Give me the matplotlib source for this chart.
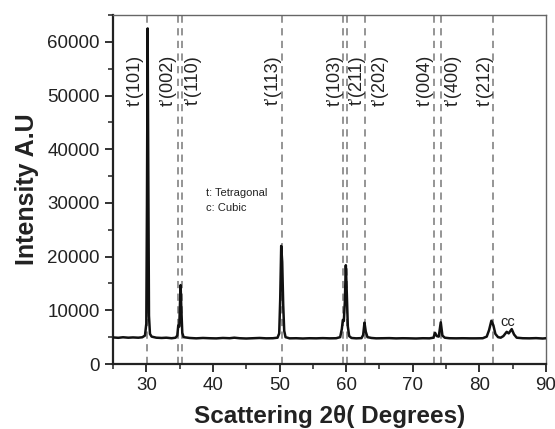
import matplotlib
matplotlib.use("Agg")
import matplotlib.pyplot as plt
from matplotlib.ticker import MultipleLocator

plt.rcParams['font.family'] = ['Liberation Sans', 'DejaVu Sans']

# XRD pattern (2theta in degrees, intensity in a.u.)
two_theta = [25.0, 25.8, 26.5, 27.3, 28.0, 28.8, 29.4, 29.8, 30.0, 30.1, 30.2, 30.3, 30.4, 30.55,
             30.8, 31.5, 32.3, 33.0, 33.8, 34.4, 34.65, 34.8, 34.95, 35.05, 35.15, 35.25, 35.4,
             35.6, 36.5, 37.5, 38.5, 39.5, 40.5, 41.5, 42.5, 43.2, 44.0, 45.0, 46.0, 47.0, 48.0,
             49.0, 49.7, 49.95, 50.1, 50.25, 50.4, 50.55, 50.7, 50.9, 51.5, 52.5, 53.5, 54.5,
             55.5, 56.5, 57.5, 58.5, 59.1, 59.35, 59.5, 59.65, 59.8, 59.95, 60.1, 60.25, 60.45,
             60.8, 61.5, 62.3, 62.55, 62.75, 62.95, 63.2, 63.8, 64.5, 65.5, 66.5, 67.5, 68.5,
             69.5, 70.5, 71.5, 72.5, 73.1, 73.35, 73.6, 73.9, 74.2, 74.45, 74.8, 75.5, 76.5,
             77.5, 78.5, 79.5, 80.5, 81.1, 81.45, 81.8, 82.1, 82.4, 82.8, 83.2, 83.6, 84.1,
             84.4, 84.85, 85.2, 85.6, 86.5, 87.5, 88.5, 89.5, 90.0]
intensity = [4950, 4880, 4980, 4900, 4950, 4900, 4980, 5300, 7500, 30000, 62500, 35000, 9000, 5600,
             5100, 4900, 4850, 4900, 4800, 4900, 5300, 7200, 7000, 11000, 14700, 10500, 5800,
             5000, 4850, 4780, 4850, 4800, 4770, 4850, 4800, 4900, 4800, 4750, 4800, 4850, 4780,
             4800, 4900, 5700, 12000, 22000, 19000, 11000, 6200, 5000, 4780, 4800, 4750, 4800,
             4780, 4820, 4780, 4800, 5000, 6500, 8200, 8000, 11500, 18400, 13000, 7000, 5200,
             4850, 4780, 4820, 5400, 7700, 6000, 5000, 4850, 4780, 4800, 4820, 4770, 4800,
             4780, 4750, 4800, 4780, 4900, 5800, 5200, 5100, 7760, 5300, 4900, 4800, 4780,
             4800, 4780, 4780, 4800, 5100, 6300, 8060, 7200, 5600, 5000, 4900, 5200, 6000,
             5700, 6500, 5500, 4900, 4800, 4780, 4820, 4750, 4800]

# reference reflections
ref_pos = [30.1, 34.8, 35.3, 50.3, 59.5, 60.1, 62.8, 73.2, 74.3, 82.1]
ref_labels = ["t’(101)", "t’(002)", "t’(110)", "t’(113)", "t’(103)", "t’(211)",
              "t’(202)", "t’(004)", "t’(400)", "t’(212)"]
label_side = [-1, -1, 1, -1, -1, 1, 1, -1, 1, -1]
label_off = [1.75, 1.5, 1.8, 1.3, 1.2, 1.6, 2.3, 1.35, 1.8, 1.2]

fig = plt.figure(figsize=(5.55, 4.29), dpi=100)
ax = fig.add_axes([0.2036, 0.1515, 0.7802, 0.8135])

for p in ref_pos:
    ax.axvline(p, color='#8c8c8c', lw=1.3, ls=(0, (4, 3)), zorder=1)

ax.plot(two_theta, intensity, color='#111111', lw=1.8, zorder=3)

for p, lab, s, o in zip(ref_pos, ref_labels, label_side, label_off):
    ax.text(p + s * o, 52800, lab, rotation=90, ha='center', va='center',
            fontsize=13, color='#222222')

ax.text(39.0, 31800, "t: Tetragonal", fontsize=8, ha='left', va='center', color='#222222')
ax.text(39.0, 29000, "c: Cubic", fontsize=8, ha='left', va='center', color='#222222')
ax.text(84.3, 7900, "cc", fontsize=10.5, ha='center', va='center', color='#222222')

ax.set_xlim(25, 90)
ax.set_ylim(0, 65000)
ax.xaxis.set_major_locator(MultipleLocator(10))
ax.xaxis.set_minor_locator(MultipleLocator(5))
ax.yaxis.set_major_locator(MultipleLocator(10000))
ax.yaxis.set_minor_locator(MultipleLocator(5000))

ax.tick_params(which='major', direction='out', length=6, width=1.3, labelsize=13.5,
               colors='#222222', top=False, right=False)
ax.tick_params(which='minor', direction='out', length=3.5, width=1.1, top=False, right=False,
               colors='#222222')
for side in ['left', 'bottom']:
    ax.spines[side].set_linewidth(1.6)
    ax.spines[side].set_color('#222222')
for side in ['top', 'right']:
    ax.spines[side].set_linewidth(1.0)
    ax.spines[side].set_color('#666666')

ax.set_xlabel("Scattering 2θ( Degrees)", fontsize=17.5, fontweight='bold', color='#222222', labelpad=8)
ax.set_ylabel("Intensity A.U", fontsize=18, fontweight='bold', color='#222222', labelpad=6)

fig.savefig("out.png", dpi=100)
